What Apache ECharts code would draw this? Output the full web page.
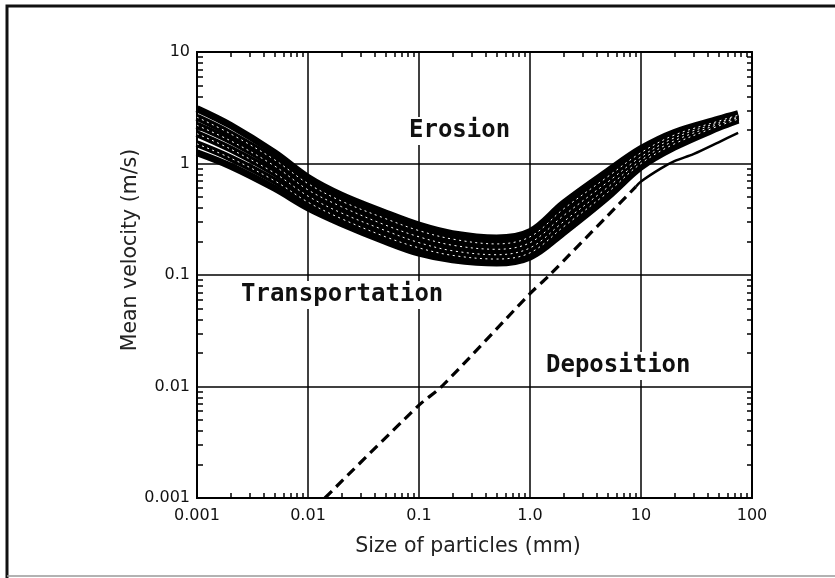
<!DOCTYPE html>
<html>
<head>
<meta charset="utf-8">
<script src="https://cdn.jsdelivr.net/npm/echarts@6/dist/echarts.min.js"></script>
<style>html,body{margin:0;padding:0;background:#fff}#c{width:835px;height:578px}</style>
</head>
<body>
<div id="c"></div>
<script>
// ---- data ----
var xTickValues = [0.001, 0.01, 0.1, 1, 10, 100];
var xTickLabels = ['0.001', '0.01', '0.1', '1.0', '10', '100'];
var yTickValues = [0.001, 0.01, 0.1, 1, 10];
var yTickLabels = ['0.001', '0.01', '0.1', '1', '10'];
var xMinorTicks = [0.002,0.003,0.004,0.005,0.006,0.007,0.008,0.009,
                   0.02,0.03,0.04,0.05,0.06,0.07,0.08,0.09,
                   0.2,0.3,0.4,0.5,0.6,0.7,0.8,0.9,
                   2,3,4,5,6,7,8,9,
                   20,30,40,50,60,70,80,90];
var yMinorTicks = [0.002,0.003,0.004,0.005,0.006,0.007,0.008,0.009,
                   0.02,0.03,0.04,0.05,0.06,0.07,0.08,0.09,
                   0.2,0.3,0.4,0.5,0.6,0.7,0.8,0.9,
                   2,3,4,5,6,7,8,9];

// particle sizes (mm) at which the erosion band curves were read
var bandSizes = [0.001, 0.002, 0.005, 0.01, 0.02, 0.05, 0.1, 0.2, 0.5, 1, 2, 5, 10, 20, 50, 75];
// erosion band curves, mean velocity (m/s), top to bottom
var erosionA = [3.1, 2.2, 1.25, 0.75, 0.52, 0.36, 0.28, 0.235, 0.215, 0.245, 0.44, 0.85, 1.36, 1.9, 2.5, 2.8];
var erosionB = [2.6, 1.85, 1.08, 0.66, 0.46, 0.32, 0.25, 0.21, 0.19, 0.22, 0.39, 0.76, 1.25, 1.8, 2.4, 2.72];
var erosionC = [2.2, 1.6, 0.95, 0.58, 0.41, 0.28, 0.22, 0.185, 0.17, 0.195, 0.34, 0.68, 1.15, 1.7, 2.33, 2.65];
var erosionD = [1.85, 1.35, 0.82, 0.51, 0.36, 0.25, 0.195, 0.165, 0.152, 0.175, 0.3, 0.61, 1.07, 1.6, 2.25, 2.58];
var erosionE = [1.5, 1.12, 0.7, 0.45, 0.32, 0.22, 0.175, 0.15, 0.139, 0.158, 0.27, 0.55, 1.0, 1.5, 2.17, 2.5];
var erosionF = [1.25, 0.95, 0.6, 0.4, 0.29, 0.2, 0.157, 0.137, 0.128, 0.145, 0.24, 0.5, 0.93, 1.4, 2.1, 2.45];

// deposition boundary: dashed part and solid part
var depDashSizes = [0.0142, 0.1, 0.16, 1.0, 1.5, 5, 9];
var depDashVel   = [0.001, 0.0068, 0.01, 0.068, 0.1, 0.34, 0.62];
var depSolidSizes = [9, 10, 15, 20, 30, 50, 75];
var depSolidVel   = [0.62, 0.69, 0.9, 1.05, 1.22, 1.55, 1.88];

function pairs(xs, ys) { return xs.map(function (x, i) { return [x, ys[i]]; }); }
function lookup(vals, labels) {
  return function (v) {
    for (var i = 0; i < vals.length; i++) if (Math.abs(Math.log10(v) - Math.log10(vals[i])) < 1e-6) return labels[i];
    return '';
  };
}

var FONT = 'DejaVu Sans';
var GRID = { left: 197, top: 52, width: 555, height: 446 };

var bandCurves = [erosionA, erosionB, erosionC, erosionD, erosionE, erosionF];
var series = bandCurves.map(function (c) {
  return {
    type: 'line', xAxisIndex: 0, yAxisIndex: 0, data: pairs(bandSizes, c),
    smooth: 0.35, symbol: 'none', silent: true, z: 3,
    lineStyle: { color: '#000', width: 7 }
  };
});
// thin white dotted strokes inside the band (same curves, drawn on top)
[erosionB, erosionC, erosionD, erosionE].forEach(function (c) {
  series.push({
    type: 'line', xAxisIndex: 0, yAxisIndex: 0, data: pairs(bandSizes, c),
    smooth: 0.35, symbol: 'none', silent: true, z: 4,
    lineStyle: { color: '#fff', width: 1, type: [2, 3.5] }
  });
});
series.push({
  type: 'line', xAxisIndex: 0, yAxisIndex: 0, data: pairs(depDashSizes, depDashVel),
  smooth: 0.3, symbol: 'none', silent: true, z: 5,
  lineStyle: { color: '#000', width: 3.2, type: [10, 6] }
});
series.push({
  type: 'line', xAxisIndex: 0, yAxisIndex: 0, data: pairs(depSolidSizes, depSolidVel),
  smooth: 0.3, symbol: 'none', silent: true, z: 5,
  lineStyle: { color: '#000', width: 2.5 }
});

var tickAxisCommon = {
  type: 'log', logBase: 10, gridIndex: 1,
  axisLine: { show: true, lineStyle: { color: '#000', width: 2 } },
  axisLabel: { show: false }, splitLine: { show: false }
};

var option = {
  animation: false,
  backgroundColor: '#fff',
  grid: [
    { left: GRID.left, top: GRID.top, width: GRID.width, height: GRID.height, containLabel: false },
    { left: GRID.left, top: GRID.top, width: GRID.width, height: GRID.height, containLabel: false }
  ],
  xAxis: [
    {
      type: 'log', logBase: 10, gridIndex: 0, position: 'bottom', min: 0.001, max: 100,
      axisLine: { show: true, lineStyle: { color: '#000', width: 2 } },
      axisTick: { show: false },
      axisLabel: { formatter: lookup(xTickValues, xTickLabels), fontFamily: FONT, fontSize: 16, color: '#111', margin: 10 },
      splitLine: { show: true, lineStyle: { color: '#000', width: 1.5 } }
    },
    Object.assign({}, tickAxisCommon, { position: 'bottom', min: 0.001, max: 100,
      axisTick: { show: true, inside: true, length: 5, customValues: xMinorTicks, lineStyle: { color: '#000', width: 1.5 } } }),
    Object.assign({}, tickAxisCommon, { position: 'top', min: 0.001, max: 100,
      axisTick: { show: true, inside: true, length: 5, customValues: xMinorTicks, lineStyle: { color: '#000', width: 1.5 } } })
  ],
  yAxis: [
    {
      type: 'log', logBase: 10, gridIndex: 0, position: 'left', min: 0.001, max: 10,
      axisLine: { show: true, lineStyle: { color: '#000', width: 2 } },
      axisTick: { show: false },
      axisLabel: { formatter: lookup(yTickValues, yTickLabels), fontFamily: FONT, fontSize: 16, color: '#111', margin: 7 },
      splitLine: { show: true, lineStyle: { color: '#000', width: 1.5 } }
    },
    Object.assign({}, tickAxisCommon, { position: 'left', min: 0.001, max: 10,
      axisTick: { show: true, inside: true, length: 6, customValues: yMinorTicks, lineStyle: { color: '#000', width: 1.5 } } }),
    Object.assign({}, tickAxisCommon, { position: 'right', min: 0.001, max: 10,
      axisTick: { show: true, inside: true, length: 5, customValues: yMinorTicks, lineStyle: { color: '#000', width: 1.5 } } })
  ],
  series: series,
  graphic: [
    { type: 'polyline', silent: true, shape: { points: [[7, 580], [7, 6], [840, 6]] }, style: { stroke: '#111', lineWidth: 3, fill: null } },
    { type: 'line', silent: true, shape: { x1: 7, y1: 576, x2: 840, y2: 576 }, style: { stroke: '#999', lineWidth: 1.5 } },
    { type: 'text', silent: true, z: 100, x: 131, y: 250, rotation: Math.PI / 2,
      style: { text: 'Mean velocity (m/s)', font: '20.5px "DejaVu Sans"', fill: '#222', align: 'center', verticalAlign: 'middle' } },
    { type: 'text', silent: true, z: 100, x: 468, y: 547,
      style: { text: 'Size of particles (mm)', font: '20.5px "DejaVu Sans"', fill: '#222', align: 'center', verticalAlign: 'middle' } },
    { type: 'text', silent: true, z: 100, left: 406, top: 117,
      style: { text: 'Erosion', font: 'bold 24px "DejaVu Sans Mono"', fill: '#111', backgroundColor: '#fff', padding: [2, 3] } },
    { type: 'text', silent: true, z: 100, left: 238, top: 281,
      style: { text: 'Transportation', font: 'bold 24px "DejaVu Sans Mono"', fill: '#111', backgroundColor: '#fff', padding: [2, 3] } },
    { type: 'text', silent: true, z: 100, left: 543, top: 352,
      style: { text: 'Deposition', font: 'bold 24px "DejaVu Sans Mono"', fill: '#111', backgroundColor: '#fff', padding: [2, 3] } }
  ]
};

var chart = echarts.init(document.getElementById('c'), null, { renderer: 'canvas' });
chart.setOption(option);
</script>
</body>
</html>
